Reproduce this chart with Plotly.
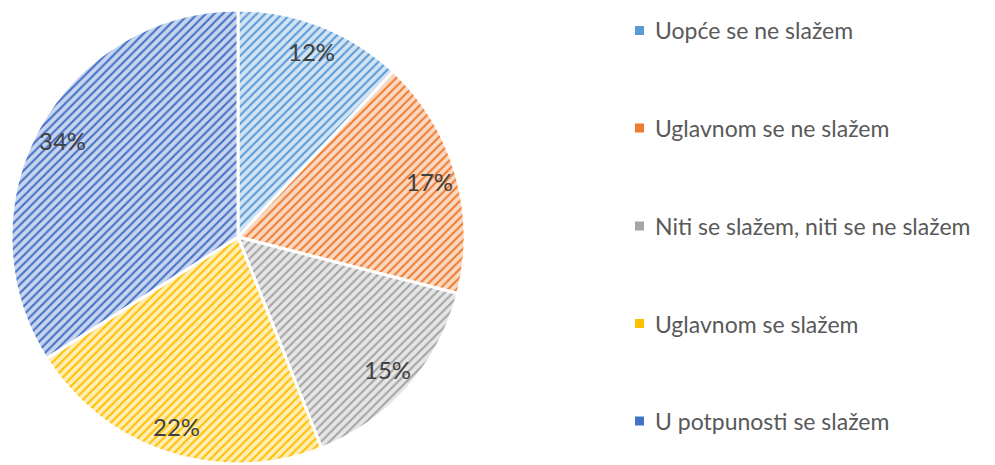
import math
import plotly.graph_objects as go

categories = ['Uopće se ne slažem', 'Uglavnom se ne slažem',
              'Niti se slažem, niti se ne slažem', 'Uglavnom se slažem',
              'U potpunosti se slažem']
values = [12, 17, 15, 22, 34]

fg_colors = ['#5B9BD5', '#ED7D31', '#A5A5A5', '#FFC000', '#4472C4']
bg_colors = ['#d3e4f4', '#fad9c3', '#e6e6e6', '#ffeeb8', '#c8d5f0']

W, H = 995, 465
OFF = 8  # page body margin shifts the whole figure
cx, cy, R = 238 - OFF, 237 - OFF, 227

fig = go.Figure(go.Pie(
    labels=categories,
    values=values,
    sort=False,
    direction='clockwise',
    rotation=0,
    textinfo='none',
    marker=dict(
        colors=bg_colors,
        line=dict(color='white', width=3),
        pattern=dict(shape='/', fgcolor=fg_colors, bgcolor=bg_colors,
                     size=6, solidity=0.35, fillmode='replace'),
    ),
    domain=dict(x=[(cx - R) / W, (cx + R) / W], y=[1 - (cy + R) / H, 1 - (cy - R) / H]),
    showlegend=False,
    hoverinfo='label+percent',
))

# percentage labels, placed near the rim like the original
total = sum(values)
cum = 0
for v in values:
    mid = (cum + v / 2) / total * 2 * math.pi
    cum += v
    r = 0.88 * R
    fig.add_annotation(x=(cx + r * math.sin(mid)) / W, y=1 - (cy - r * math.cos(mid)) / H,
                       xref='paper', yref='paper', text=f'{v}%', showarrow=False,
                       xanchor='center', yanchor='middle',
                       font=dict(family='Lato', size=24, color='#404040'))

# legend drawn by hand, to get the wide spacing between entries
row_y = [30.5, 128, 226, 323.5, 421]
for name, col, yp in zip(categories, fg_colors, row_y):
    yp -= OFF
    fig.add_shape(type='rect', xref='paper', yref='paper',
                  x0=(635 - OFF) / W, x1=(644 - OFF) / W,
                  y0=1 - (yp + 4.5) / H, y1=1 - (yp - 4.5) / H,
                  fillcolor=col, line=dict(width=0))
    fig.add_annotation(x=(653 - OFF) / W, y=1 - yp / H, xref='paper', yref='paper',
                       text=name, showarrow=False, xanchor='left', yanchor='middle',
                       font=dict(family='Lato', size=23, color='#595959'))

fig.update_layout(width=W, height=H,
                  margin=dict(l=0, r=0, t=0, b=0),
                  paper_bgcolor='white', plot_bgcolor='white')

fig.write_html('out.html')
